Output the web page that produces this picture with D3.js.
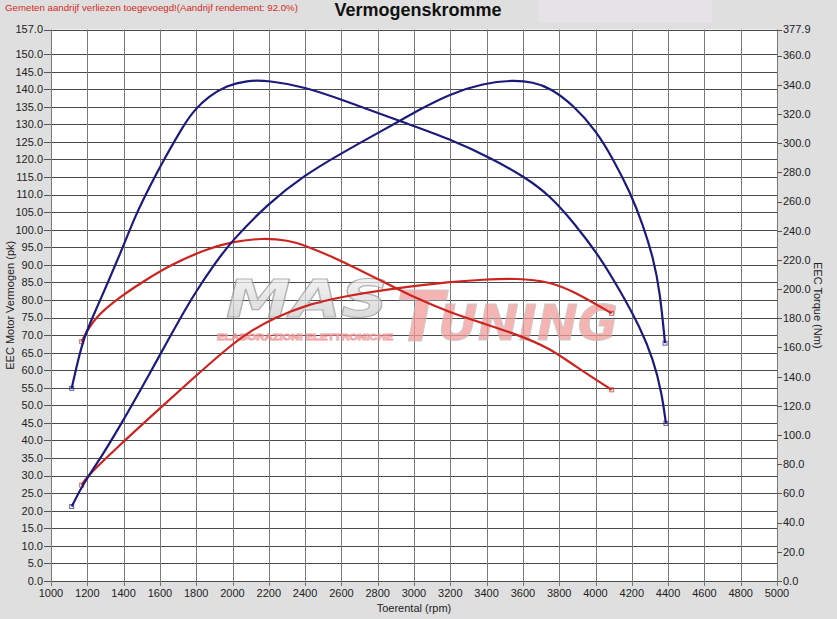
<!DOCTYPE html>
<html><head><meta charset="utf-8">
<script src="https://cdn.jsdelivr.net/npm/d3@7"></script>
<style>
html,body{margin:0;padding:0;background:#dfdfdf;}
svg{display:block;font-family:"Liberation Sans",Arial,sans-serif;}
</style></head>
<body>
<svg id="chart" width="837" height="619"></svg>
<script>
// ---------- data ----------
const titleText = "Vermogenskromme";
const noteText = "Gemeten aandrijf verliezen toegevoegd!(Aandrijf rendement: 92.0%)";
const xLabel = "Toerental (rpm)";
const yLeftLabel = "EEC Motor Vermogen (pk)";
const yRightLabel = "EEC Torque (Nm)";

const xTicks = [1000,1200,1400,1600,1800,2000,2200,2400,2600,2800,3000,3200,3400,3600,3800,4000,4200,4400,4600,4800,5000];
const leftTicks = [0,5,10,15,20,25,30,35,40,45,50,55,60,65,70,75,80,85,90,95,100,105,110,115,120,125,130,135,140,145,150,157];
const rightTicks = [0,20,40,60,80,100,120,140,160,180,200,220,240,260,280,300,320,340,360,377.9];

// tuned (blue) torque, Nm
const blueTorqueRpm = [1114,1175,1242,1398,1463,1555,1610,1738,1793,1867,1968,2078,2197,2399,2600,2923,3198,3437,3621,3749,3878,4025,4135,4245,4318,4365,4388];
const blueTorqueNm  = [132,166,184,229,250,273,286,314,323,332,339.5,343,343,338.5,330,315,303,289,276,264,246,222,199,174,152,129,108];
// tuned (blue) power, pk
const bluePowerRpm = [1114,1178,1279,1389,1500,1591,1701,1793,1904,1996,2197,2399,2592,2813,2923,3015,3198,3382,3547,3657,3749,3878,4006,4098,4190,4263,4318,4355,4383];
const bluePowerPk  = [21.2,27.8,35.4,44.9,55.0,63.5,73.8,82.0,90.5,96.8,107.5,115.6,121.5,127.9,131.0,133.8,138.7,141.7,142.6,142.0,140.4,135.5,128.0,120.0,110.8,101.2,92.0,82.5,67.7];
// stock (red) torque, Nm
const redTorqueRpm = [1169,1233,1389,1518,1665,1848,1996,2161,2308,2399,2592,2831,3015,3198,3382,3566,3749,3878,4089];
const redTorqueNm  = [164,180,195.5,206,217,227,232.5,235,233.5,230,220,205,193.5,184,176.5,169,159.5,148,131];
// stock (red) power, pk
const redPowerRpm = [1169,1197,1389,1591,1793,1977,2087,2234,2399,2592,2923,3198,3382,3566,3749,3878,4089];
const redPowerPk  = [27.3,29.7,39.2,48.7,58.2,66.5,70.8,75.0,78.4,80.9,83.5,85.2,85.8,86.2,85.2,82.5,76.2];

// ---------- layout ----------
const svg = d3.select("#chart");
const W = 837, H = 619;
const L = 51, R = 777, T = 29.5, B = 581;
const blue = "#1b1b7d", red = "#cc2420";

const x = d3.scaleLinear().domain([1000,5000]).range([L,R]);
const yP = d3.scaleLinear().domain([0,157]).range([B,T]);
const yT = d3.scaleLinear().domain([0,377.9]).range([B,T]);

svg.append("rect").attr("width",W).attr("height",H).attr("fill","#dfdfdf");
svg.append("rect").attr("x",538).attr("y",0).attr("width",174).attr("height",23).attr("fill","#e6e3e6");

// plot area
svg.append("rect").attr("x",L).attr("y",T).attr("width",R-L).attr("height",B-T).attr("fill","#ffffff");

// grid
const grid = svg.append("g");
grid.selectAll("line.h").data(leftTicks).join("line")
  .attr("x1",L).attr("x2",R).attr("y1",d=>Math.round(yP(d))+0.5).attr("y2",d=>Math.round(yP(d))+0.5)
  .attr("stroke","#4a4a4a").attr("stroke-width",1);
grid.selectAll("line.v").data(xTicks).join("line")
  .attr("y1",T).attr("y2",B).attr("x1",d=>Math.round(x(d))+0.5).attr("x2",d=>Math.round(x(d))+0.5)
  .attr("stroke","#7a7a7a").attr("stroke-width",1);

// watermark
const defs = svg.append("defs");
const gr = defs.append("linearGradient").attr("id","gGray").attr("x1",0).attr("y1",0).attr("x2",0).attr("y2",1);
gr.append("stop").attr("offset","0%").attr("stop-color","#f6f6f6");
gr.append("stop").attr("offset","50%").attr("stop-color","#d2d2d2");
gr.append("stop").attr("offset","100%").attr("stop-color","#a9a9a9");
const wm = svg.append("text").attr("opacity",0.75).attr("font-family","DejaVu Sans")
  .attr("font-weight","900").attr("font-style","italic");
wm.append("tspan").attr("x",226).attr("y",317).attr("font-size",52)
  .attr("textLength",162).attr("lengthAdjust","spacingAndGlyphs")
  .attr("fill","url(#gGray)").attr("stroke","#9a9a9a").attr("stroke-width",1.2).text("MAS");
wm.append("tspan").attr("x",396).attr("y",341).attr("font-size",70)
  .attr("fill","#f29a98").attr("stroke","#bbbbbb").attr("stroke-width",1).text("T");
wm.append("tspan").attr("x",438).attr("y",340).attr("font-size",50)
  .attr("textLength",180).attr("lengthAdjust","spacingAndGlyphs")
  .attr("fill","#f29a98").attr("stroke","#bbbbbb").attr("stroke-width",1).text("UNING");
svg.append("text").attr("x",217).attr("y",340).attr("font-size",9).attr("font-weight","bold")
  .attr("opacity",0.8)
  .attr("textLength",176).attr("lengthAdjust","spacingAndGlyphs")
  .attr("fill","#ffffff").attr("stroke","#ee8a8a").attr("stroke-width",0.9).text("ELABORAZIONI ELETTRONICHE");

// axes ticks & labels
const tickFont = 11, tickCol = "#222";
const lt = svg.append("g");
lt.selectAll("line").data(leftTicks).join("line")
  .attr("x1",L-7).attr("x2",L).attr("y1",d=>Math.round(yP(d))+0.5).attr("y2",d=>Math.round(yP(d))+0.5)
  .attr("stroke","#555");
lt.selectAll("text").data(leftTicks).join("text")
  .attr("x",L-8).attr("y",d=>yP(d)).attr("dy","0.35em").attr("text-anchor","end")
  .attr("font-size",tickFont).attr("fill",tickCol).text(d=>d.toFixed(1));

const rt = svg.append("g");
rt.selectAll("line").data(rightTicks).join("line")
  .attr("x1",R).attr("x2",R+5).attr("y1",d=>Math.round(yT(d))+0.5).attr("y2",d=>Math.round(yT(d))+0.5)
  .attr("stroke","#555");
rt.selectAll("text").data(rightTicks).join("text")
  .attr("x",R+6).attr("y",d=>yT(d)).attr("dy","0.35em").attr("text-anchor","start")
  .attr("font-size",tickFont).attr("fill",tickCol).text(d=>d.toFixed(1));

const bt = svg.append("g");
bt.selectAll("line").data(xTicks).join("line")
  .attr("x1",d=>Math.round(x(d))+0.5).attr("x2",d=>Math.round(x(d))+0.5).attr("y1",B).attr("y2",B+5)
  .attr("stroke","#777");
bt.selectAll("text").data(xTicks).join("text")
  .attr("x",d=>x(d)).attr("y",597).attr("text-anchor","middle")
  .attr("font-size",tickFont).attr("fill",tickCol).text(d=>d);

// axis titles
svg.append("text").attr("x",(L+R)/2).attr("y",612).attr("text-anchor","middle")
  .attr("font-size",11).attr("fill","#222").text(xLabel);
svg.append("text").attr("transform",`translate(14,${(T+B)/2}) rotate(-90)`).attr("text-anchor","middle")
  .attr("font-size",11).attr("fill","#222").text(yLeftLabel);
svg.append("text").attr("transform",`translate(814,${(T+B)/2}) rotate(90)`).attr("text-anchor","middle")
  .attr("font-size",11).attr("fill","#222").text(yRightLabel);

// title & note
svg.append("text").attr("x",418).attr("y",16).attr("text-anchor","middle")
  .attr("font-size",18).attr("font-weight","bold").attr("fill","#111").text(titleText);
svg.append("text").attr("x",5).attr("y",11).attr("font-size",9.7).attr("fill","#d42a22").text(noteText);

// curves
function drawCurve(rpms, vals, yScale, color){
  const pts = rpms.map((r,i)=>[r, vals[i]]);
  const line = d3.line().x(d=>x(d[0])).y(d=>yScale(d[1])).curve(d3.curveBasis);
  svg.append("path").datum(pts).attr("d",line).attr("fill","none")
    .attr("stroke",color).attr("stroke-width",2.2).attr("stroke-linejoin","round");
  [pts[0], pts[pts.length-1]].forEach(p=>{
    svg.append("rect").attr("x",x(p[0])-2).attr("y",yScale(p[1])-2).attr("width",4).attr("height",4)
      .attr("fill","none").attr("stroke",color).attr("stroke-width",1).attr("opacity",0.7);
  });
}
drawCurve(redTorqueRpm, redTorqueNm, yT, red);
drawCurve(redPowerRpm, redPowerPk, yP, red);
drawCurve(blueTorqueRpm, blueTorqueNm, yT, blue);
drawCurve(bluePowerRpm, bluePowerPk, yP, blue);
</script>
</body></html>
